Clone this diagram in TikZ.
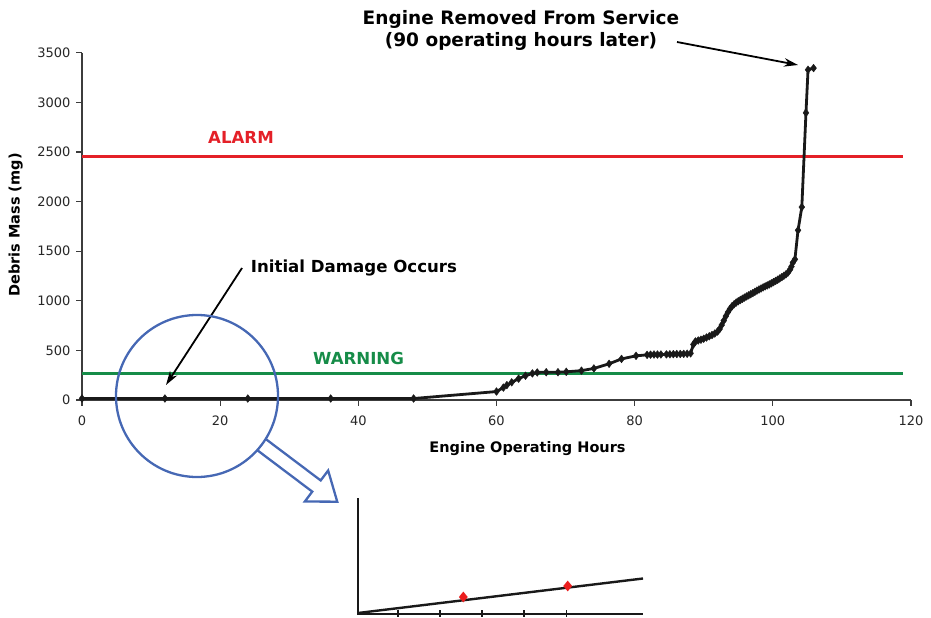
\documentclass[tikz,border=0pt]{standalone}
\usepackage{fontspec}
\setmainfont{DejaVu Sans}
\usetikzlibrary{arrows.meta,calc,shapes.geometric,plotmarks}

\definecolor{alarmred}{RGB}{228,32,40}
\definecolor{warngreen}{RGB}{22,140,72}
\definecolor{lensblue}{RGB}{70,104,180}
\definecolor{axisgray}{RGB}{60,60,60}
\definecolor{markred}{RGB}{235,30,30}

\begin{document}
\begin{tikzpicture}[x=1bp,y=-1bp,
  axisline/.style={draw=axisgray, line width=1.6bp},
  tickline/.style={draw=axisgray, line width=1.3bp},
  ticklabel/.style={font=\fontsize{13bp}{15bp}\selectfont, text=black!85, inner sep=0pt},
  annot/.style={font=\fontsize{16.6bp}{20bp}\selectfont\bfseries, inner sep=0pt},
  axislabel/.style={font=\fontsize{14.5bp}{17bp}\selectfont\bfseries, inner sep=0pt},
  pointer/.style={draw=black, line width=1.8bp, -{Stealth[length=14bp,width=8.5bp]}},
  datacurve/.style={draw=black!90, line width=2.8bp, line join=round},
  limitline/.style={line width=2.4bp},
  lensline/.style={draw=lensblue, line width=2.3bp},
  insetline/.style={draw=black!90, line width=2bp},
  redmark/.style={diamond, fill=markred, minimum width=9bp, minimum height=11bp, inner sep=0pt},
]
\useasboundingbox (0,0) rectangle (931,618);

% ---------- main chart: hours on x, debris mass (mg) on y ----------
\begin{scope}[shift={(82,400)}, x=6.908bp, y=0.09923bp]
  % axes
  \draw[axisline] (0,0) -- (120,0);
  \draw[axisline] (0,0) -- (0,3500);
  \foreach \m in {0,500,...,3500}
    \draw[tickline] (0,\m) -- ++(-6bp,0)
      node[ticklabel, anchor=east, xshift=-5bp] {\m};
  \foreach \h in {0,20,...,120}
    \draw[tickline] (\h,0) -- ++(0,-6bp)
      node[ticklabel, anchor=north, yshift=-9bp] {\h};

  % alarm and warning limits
  \draw[alarmred, limitline] (0,2454) -- (118.8,2454);
  \draw[warngreen, limitline] (0,269) -- (118.8,269);

  % debris mass record
  \draw[datacurve] plot[mark=diamond*, mark size=3.9bp,
      mark options={fill=black!90, draw=black!90, line width=0.4bp}]
    coordinates {
    (0,15) (12,15) (24,15) (36,15) (48,15)
    (60,85) (61,125) (61.5,150) (62.2,178) (63.2,215) (64.2,245) (65.2,268)
    (65.9,278) (67.2,280) (68.9,280) (70.1,284) (72.3,296) (74.1,318)
    (76.3,365) (78.1,414) (80.2,445)
    (81.8,455) (82.3,457) (82.8,458) (83.3,458) (83.8,459) (84.6,460)
    (85.1,461) (85.6,462) (86.1,463) (86.6,464) (87.1,465) (87.6,466)
    (88.1,470) (88.5,560) (88.8,590) (89.2,600) (89.6,608) (90,618)
    (90.4,630) (90.8,642) (91.2,655) (91.6,670) (92,690) (92.3,715)
    (92.6,755) (92.9,800) (93.2,845) (93.5,885) (93.8,918) (94.1,945)
    (94.4,965) (94.7,982) (95,995) (95.3,1008) (95.6,1020) (95.9,1032)
    (96.2,1044) (96.5,1055) (96.8,1066) (97.1,1077) (97.4,1090) (97.7,1102)
    (98,1113) (98.3,1124) (98.6,1135) (98.9,1145) (99.2,1155) (99.5,1165)
    (99.8,1176) (100.1,1188) (100.4,1200) (100.7,1212) (101,1225)
    (101.3,1238) (101.6,1252) (101.9,1266) (102.2,1285) (102.5,1315)
    (102.7,1345) (102.9,1385) (103.2,1418) (103.65,1711) (104.2,1944)
    (104.8,2894) (105.1,3328) (105.9,3345)
  };
\end{scope}

% ---------- axis titles ----------
\node[axislabel, rotate=90] (ylab) at (15.7,225) {Debris Mass (mg)};
\node[axislabel] (xlab) at (527.5,449) {Engine Operating Hours};

% ---------- limit labels ----------
\node[annot, text=alarmred, anchor=base west] (alarm) at (208,144) {ALARM};
\node[annot, text=warngreen, anchor=base west] (warning) at (313,364) {WARNING};

% ---------- annotations ----------
\node[font=\fontsize{18.5bp}{22.5bp}\selectfont\bfseries, inner sep=0pt, align=center]
  (removed) at (521,30.5) {Engine Removed From Service\\(90 operating hours later)};
\coordinate (removedtail) at (677,42);
\coordinate (peak) at (798,65);
\draw[pointer] (removedtail) -- (peak);

\node[annot, anchor=base west] (damage) at (250.7,273) {Initial Damage Occurs};
\coordinate (damagetail) at (242,268);
\coordinate (damagetip) at (166,385);
\draw[pointer] (damagetail) -- (damagetip);

% ---------- magnifier ring and hollow arrow ----------
\node[circle, lensline, minimum size=162bp, inner sep=0pt] (lens) at (197,396) {};
\draw[lensline, line join=miter]
  ($(lens.center)+(37:80.7)+(-53:7)$) --
  ($(lens.center)+(37:149.6)+(-53:7)$) --
  ($(lens.center)+(37:149.6)+(-53:19.4)$) --
  ($(lens.center)+(37:175.6)$) --
  ($(lens.center)+(37:149.6)+(127:19.4)$) --
  ($(lens.center)+(37:149.6)+(127:7)$) --
  ($(lens.center)+(37:80.7)+(127:7)$);

% ---------- enlarged detail ----------
\draw[insetline] (358,498) -- (358,613.5) -- (643,613.5);
\foreach \t in {398,440,482,524,566.5}
  \draw[line width=1.3bp, black!90] (\t,610) -- (\t,617);
\draw[line width=2.4bp, black!90] (358,613) -- (643,578.5);
\node[redmark] (firstred) at (463.3,597) {};
\node[redmark] (secondred) at (567.7,586) {};
\end{tikzpicture}
\end{document}
